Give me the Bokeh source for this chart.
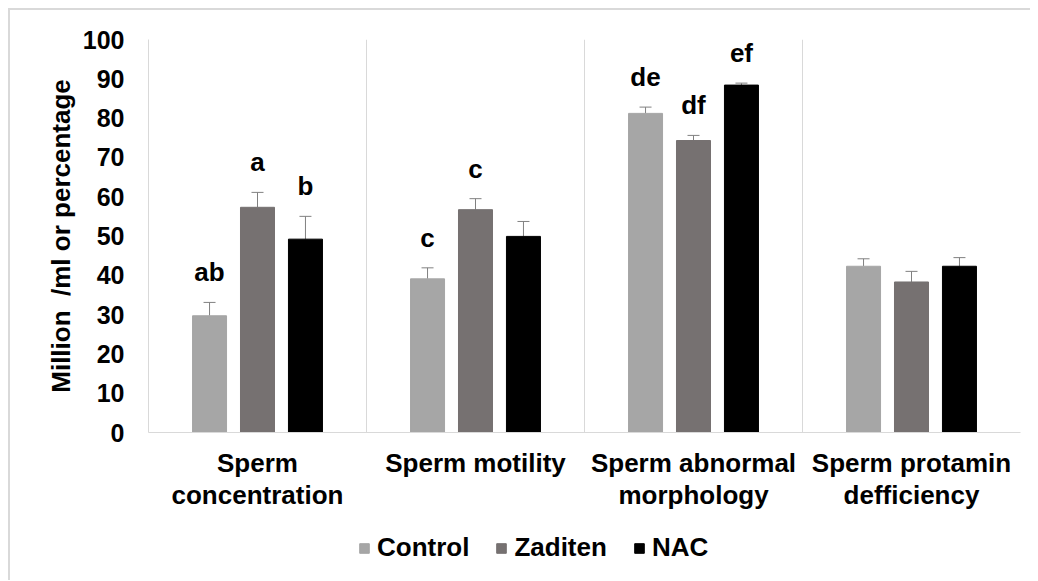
from bokeh.plotting import figure
from bokeh.layouts import column
from bokeh.models import (ColumnDataSource, FixedTicker, Legend, LegendItem,
                          Whisker, TeeHead, Range1d)
from bokeh.core.properties import value
from bokeh.embed import file_html
from bokeh.resources import INLINE

# ---- data ----
categories = ["Sperm\nconcentration", "Sperm motility",
              "Sperm abnormal\nmorphology", "Sperm protamin\ndefficiency"]
groups = ["Control", "Zaditen", "NAC"]
control = [29.7, 39.1, 81.2, 42.3]
control_err = [3.4, 2.8, 1.6, 1.9]
zaditen = [57.3, 56.7, 74.3, 38.3]
zaditen_err = [3.8, 2.8, 1.3, 2.7]
nac = [49.2, 49.9, 88.4, 42.3]
nac_err = [5.8, 3.8, 0.5, 2.2]
letters_control = ["ab", "c", "de", ""]
letters_zaditen = ["a", "c", "df", ""]
letters_nac = ["b", "", "ef", ""]
y_ticks = list(range(0, 101, 10))

colors = ["#a6a6a6", "#767171", "#000000"]
series = [
    (groups[0], control, control_err, letters_control, colors[0]),
    (groups[1], zaditen, zaditen_err, letters_zaditen, colors[1]),
    (groups[2], nac, nac_err, letters_nac, colors[2]),
]
offsets = [-0.22, 0.0, 0.22]
bar_width = 0.156
FONT = "Liberation Sans"

p = figure(frame_width=872, frame_height=393,
           x_range=Range1d(0, len(categories)), y_range=Range1d(0, 100),
           output_backend="svg", toolbar_location=None,
           min_border_left=138, min_border_top=29, min_border_right=10,
           min_border_bottom=85, outline_line_color=None,
           background_fill_color="white", border_fill_color="white")

# grid: vertical separators between categories only
p.ygrid.grid_line_color = None
p.xgrid.ticker = FixedTicker(ticks=list(range(len(categories) + 1)))
p.xgrid.grid_line_color = "#d9d9d9"
p.xgrid.grid_line_width = 1

for (name, vals, errs, letters, color), off in zip(series, offsets):
    xs = [i + 0.5 + off for i in range(len(categories))]
    src = ColumnDataSource(dict(
        x=xs, top=vals, upper=[v + e for v, e in zip(vals, errs)], label=letters))
    p.vbar(x="x", top="top", width=bar_width, source=src,
           fill_color=color, line_color=color)
    w = Whisker(source=src, base="x", lower="top", upper="upper",
                line_color="#808080", line_width=1,
                upper_head=TeeHead(size=12, line_color="#808080", line_width=1),
                lower_head=None)
    p.add_layout(w)
    p.text(x="x", y="upper", text="label", source=src,
           text_font=value(FONT), text_font_style="bold", text_font_size="26px",
           text_align="center", text_baseline="alphabetic", y_offset=-30,
           text_color="black")

# x axis
p.xaxis.ticker = FixedTicker(ticks=[i + 0.5 for i in range(len(categories))])
p.xaxis.major_label_overrides = {i + 0.5: c for i, c in enumerate(categories)}
p.xaxis.axis_line_color = "#d9d9d9"
p.xaxis.major_tick_line_color = None
p.xaxis.minor_tick_line_color = None
p.xaxis.major_label_standoff = 9
p.xaxis.major_label_text_font = FONT
p.xaxis.major_label_text_font_style = "bold"
p.xaxis.major_label_text_font_size = "26px"
p.xaxis.major_label_text_line_height = 1.07
p.xaxis.major_label_text_color = "black"

# y axis
p.yaxis.ticker = FixedTicker(ticks=y_ticks)
p.yaxis.axis_line_color = "#d9d9d9"
p.yaxis.major_tick_line_color = None
p.yaxis.minor_tick_line_color = None
p.yaxis.major_label_standoff = 18
p.yaxis.major_label_text_font = FONT
p.yaxis.major_label_text_font_style = "bold"
p.yaxis.major_label_text_font_size = "25px"
p.yaxis.major_label_text_color = "black"
p.yaxis.axis_label = "Million\u00a0 /ml or percentage"
p.yaxis.axis_label_standoff = 4
p.yaxis.axis_label_text_font = FONT
p.yaxis.axis_label_text_font_style = "bold"
p.yaxis.axis_label_text_font_size = "26px"
p.yaxis.axis_label_text_color = "black"

# legend strip underneath (proxy glyphs sit outside the visible range)
pl = figure(width=1020, height=63, x_range=Range1d(0, 1), y_range=Range1d(0, 1),
            output_backend="svg", toolbar_location=None, min_border=0,
            outline_line_color=None, background_fill_color="white",
            border_fill_color="white")
pl.axis.visible = False
pl.grid.grid_line_color = None
items = []
for name, color in zip(groups, colors):
    r = pl.vbar(x=[-10], top=[0], width=0.1, fill_color=color, line_color=color)
    items.append(LegendItem(label=name, renderers=[r]))
legend = Legend(items=items, orientation="horizontal", location=(210, 17),
                glyph_width=12, glyph_height=12, label_standoff=7, spacing=26,
                padding=0, margin=0, border_line_color=None,
                background_fill_alpha=0,
                label_text_font=FONT, label_text_font_style="bold",
                label_text_font_size="26px", label_text_color="black")
pl.add_layout(legend, "center")

layout = column(p, pl, spacing=0,
                styles={"margin-left": "8px", "margin-top": "8px",
                        "border-left": "2px solid #d9d9d9",
                        "border-top": "2px solid #d9d9d9"})

open("out.html", "w").write(file_html(layout, INLINE))
